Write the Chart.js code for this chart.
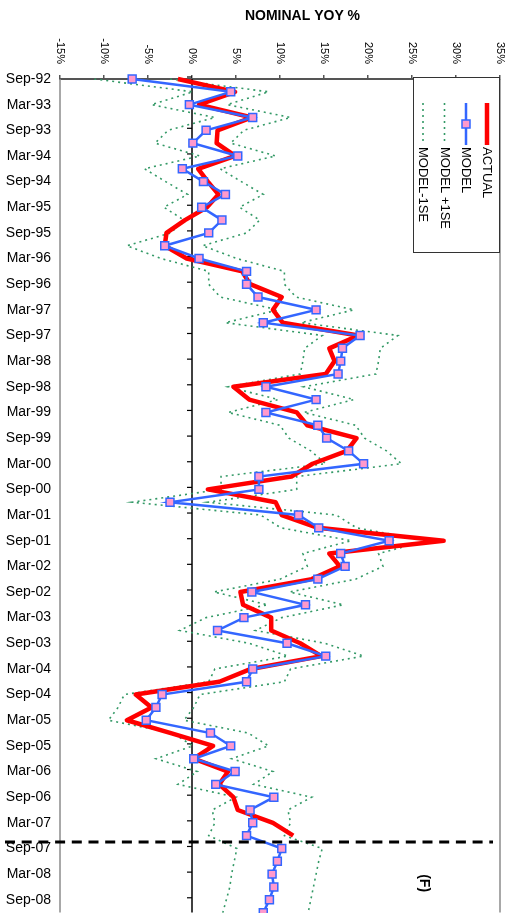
<!DOCTYPE html>
<html><head><meta charset="utf-8">
<script src="https://cdn.jsdelivr.net/npm/chart.js@4/dist/chart.umd.min.js"></script>
<style>html,body{margin:0;padding:0;background:#fff;overflow:hidden;} #wrap{width:511px;height:930px;}</style>
</head><body><div id="wrap"><canvas id="c" width="511" height="930"></canvas></div>
<script>
const categories = [
'Sep-92','Dec-92',
'Mar-93','Jun-93','Sep-93','Dec-93',
'Mar-94','Jun-94','Sep-94','Dec-94',
'Mar-95','Jun-95','Sep-95','Dec-95',
'Mar-96','Jun-96','Sep-96','Dec-96',
'Mar-97','Jun-97','Sep-97','Dec-97',
'Mar-98','Jun-98','Sep-98','Dec-98',
'Mar-99','Jun-99','Sep-99','Dec-99',
'Mar-00','Jun-00','Sep-00','Dec-00',
'Mar-01','Jun-01','Sep-01','Dec-01',
'Mar-02','Jun-02','Sep-02','Dec-02',
'Mar-03','Jun-03','Sep-03','Dec-03',
'Mar-04','Jun-04','Sep-04','Dec-04',
'Mar-05','Jun-05','Sep-05','Dec-05',
'Mar-06','Jun-06','Sep-06','Dec-06',
'Mar-07','Jun-07','Sep-07','Dec-07',
'Mar-08','Jun-08','Sep-08','Dec-08'
];

const actual = [
-1.6, 4.9, 0.8, 6.8, 2.9, 2.8, 4.9, 0.7, 1.8, 3.0,
1.7, -0.8, -2.9, -3.1, -0.6, 5.7, 6.6, 10.2, 9.2, 10.3,
18.9, 15.6, 16.2, 15.2, 4.7, 6.5, 11.9, 13.1, 18.7, 17.6,
13.7, 11.3, 1.8, 9.5, 10.2, 14.3, 28.6, 15.6, 16.8, 13.6,
5.5, 5.8, 9.0, 9.0, 12.3, 14.7, 6.7, 3.1, -6.4, -4.6,
-7.4, -2.4, 2.4, 0.2, 4.1, 3.1, 4.7, 5.2, 9.2, 11.5
];

const model = [
-6.8, 4.4, -0.3, 6.9, 1.6, 0.1, 5.2, -1.1, 1.3, 3.8,
1.1, 3.4, 1.9, -3.1, 0.8, 6.2, 6.2, 7.5, 14.1, 8.1,
19.1, 17.1, 16.9, 16.6, 8.4, 14.1, 8.4, 14.3, 15.3, 17.8,
19.5, 7.6, 7.6, -2.5, 12.1, 14.4, 22.4, 16.9, 17.4, 14.3,
6.8, 12.9, 5.9, 2.9, 10.8, 15.2, 6.9, 6.2, -3.4, -4.1,
-5.2, 2.1, 4.4, 0.2, 4.9, 2.7, 9.3, 6.6, 6.9, 6.2,
10.2, 9.7, 9.1, 9.3, 8.8, 8.1
];

const modelPlus1SE = [
-2.5, 8.7, 4.0, 11.2, 5.9, 4.4, 9.5, 3.2, 5.6, 8.1,
5.4, 7.7, 6.2, 1.2, 5.1, 10.5, 10.5, 11.8, 18.4, 12.4,
23.4, 21.4, 21.2, 20.9, 12.7, 18.4, 12.7, 18.6, 19.6, 22.1,
23.8, 11.9, 11.9, 1.8, 16.4, 18.7, 26.7, 21.2, 21.7, 18.6,
11.1, 17.2, 10.2, 7.2, 15.1, 19.5, 11.2, 10.5, 0.9, 0.2,
-0.9, 6.4, 8.7, 4.5, 9.2, 7.0, 13.6, 10.9, 11.2, 10.5,
14.8, 14.4, 14.1, 13.8, 13.5, 13.2
];

const modelMinus1SE = [
-11.1, 0.1, -4.6, 2.6, -2.7, -4.2, 0.9, -5.4, -3.0, -0.5,
-3.2, -0.9, -2.4, -7.4, -3.5, 1.9, 1.9, 3.2, 9.8, 3.8,
14.8, 12.8, 12.6, 12.3, 4.1, 9.8, 4.1, 10.0, 11.0, 13.5,
15.2, 3.3, 3.3, -6.8, 7.8, 10.1, 18.1, 12.6, 13.1, 10.0,
2.5, 8.6, 1.6, -1.4, 6.5, 10.9, 2.6, 1.9, -7.7, -8.4,
-9.5, -2.2, 0.1, -4.1, 0.6, -1.6, 5.0, 2.3, 2.6, 1.9,
5.1, 4.8, 4.5, 4.3, 3.9, 3.5
];

const xTicks = [-15, -10, -5, 0, 5, 10, 15, 20, 25, 30, 35];
const xTickLabels = ['-15%', '-10%', '-5%', '0%', '5%', '10%', '15%', '20%', '25%', '30%', '35%'];
const seriesNames = ['ACTUAL', 'MODEL', 'MODEL +1SE', 'MODEL-1SE'];
const chartTitle = 'NOMINAL YOY %';
const forecastLabel = '(F)';
const forecastBoundary = 59.5;   // between Jun-07 and Sep-07
const forecastLabelPos = {cat: 62.7, val: 26.4};

const FONT = "'Liberation Sans', Arial, Helvetica, sans-serif";
const RED = '#FF0000', BLUE = '#3366FF', PINK = '#FF99CC', GREEN = '#339966';
Chart.defaults.font.family = FONT;

const decor = {
  id: 'decor',
  beforeDatasetsDraw(chart) {
    const {ctx, chartArea: a, scales: {x, y}} = chart;
    ctx.save();
    ctx.strokeStyle = '#8c8c8c'; ctx.lineWidth = 1.5;
    ctx.beginPath();
    ctx.moveTo(a.left, a.top); ctx.lineTo(a.left, a.bottom);
    ctx.moveTo(a.right, a.top); ctx.lineTo(a.right, a.bottom);
    ctx.stroke();
    const x0 = x.getPixelForValue(0);
    ctx.strokeStyle = '#000'; ctx.lineWidth = 1.5;
    ctx.beginPath(); ctx.moveTo(x0, a.top); ctx.lineTo(x0, a.bottom); ctx.stroke();
    ctx.lineWidth = 1.2;
    for (let i = 0; i < categories.length; i += 2) {
      const py = y.getPixelForValue(i) - 2;
      ctx.beginPath(); ctx.moveTo(x0 - 5, py); ctx.lineTo(x0, py); ctx.stroke();
    }
    ctx.restore();
  },
  afterDatasetsDraw(chart) {
    const {ctx, scales: {y}} = chart;
    const py = y.getPixelForValue(forecastBoundary);
    ctx.save();
    ctx.strokeStyle = '#000'; ctx.lineWidth = 3; ctx.setLineDash([10, 6.7]);
    ctx.beginPath(); ctx.moveTo(5, py); ctx.lineTo(493, py); ctx.stroke();
    ctx.restore();
  },
  afterDraw(chart) {
    const {ctx, chartArea: a, scales: {x, y}} = chart;
    ctx.save();
    ctx.fillStyle = '#000';
    // title
    ctx.font = 'bold 14px ' + FONT;
    ctx.textAlign = 'center'; ctx.textBaseline = 'middle';
    ctx.fillText(chartTitle, 302.5, 16);
    // x tick labels (rotated clockwise)
    ctx.font = '11px ' + FONT;
    xTicks.forEach((v, i) => {
      const px = x.getPixelForValue(v);
      ctx.save();
      ctx.translate(px, 64); ctx.rotate(Math.PI / 2);
      ctx.textAlign = 'right'; ctx.textBaseline = 'middle';
      ctx.fillText(xTickLabels[i], 0, 0);
      ctx.restore();
    });
    // (F)
    ctx.save();
    ctx.font = 'bold 14px ' + FONT;
    ctx.translate(x.getPixelForValue(forecastLabelPos.val), y.getPixelForValue(forecastLabelPos.cat));
    ctx.rotate(Math.PI / 2);
    ctx.textAlign = 'center'; ctx.textBaseline = 'middle';
    ctx.fillText(forecastLabel, 0, 0);
    ctx.restore();
    // legend
    const bx = 413.5, by = 77.5, bw = 86, bh = 175;
    ctx.fillStyle = '#fff'; ctx.fillRect(bx, by, bw, bh);
    ctx.strokeStyle = '#333'; ctx.lineWidth = 1; ctx.strokeRect(bx, by, bw, bh);
    const cols = [487, 466, 444.5, 423];
    const y1 = 103, y2 = 145, ty = 147;
    cols.forEach((cx, i) => {
      ctx.save();
      if (i === 0) { ctx.strokeStyle = RED; ctx.lineWidth = 4.5; }
      else if (i === 1) { ctx.strokeStyle = BLUE; ctx.lineWidth = 2.5; }
      else { ctx.strokeStyle = GREEN; ctx.lineWidth = 1.6; ctx.setLineDash([2, 4]); }
      ctx.beginPath(); ctx.moveTo(cx, y1); ctx.lineTo(cx, y2); ctx.stroke();
      ctx.setLineDash([]);
      if (i === 1) {
        ctx.fillStyle = PINK; ctx.strokeStyle = BLUE; ctx.lineWidth = 1.5;
        ctx.fillRect(cx - 4, 120, 8, 8); ctx.strokeRect(cx - 4, 120, 8, 8);
      }
      ctx.restore();
      ctx.save();
      ctx.fillStyle = '#000';
      ctx.font = '13px ' + FONT;
      ctx.translate(cx, ty); ctx.rotate(Math.PI / 2);
      ctx.textAlign = 'left'; ctx.textBaseline = 'middle';
      ctx.fillText(seriesNames[i], 0, 0);
      ctx.restore();
    });
    ctx.restore();
  }
};

new Chart(document.getElementById('c'), {
  type: 'line',
  data: {
    labels: categories,
    datasets: [
      {label: seriesNames[1], data: model, borderColor: BLUE, borderWidth: 2.5,
       pointStyle: 'rect', pointRadius: 5.6, pointBackgroundColor: PINK, pointBorderColor: BLUE,
       pointBorderWidth: 1.5, order: 0, clip: false},
      {label: seriesNames[0], data: actual, borderColor: RED, borderWidth: 4.5,
       pointRadius: 0, order: 1, borderJoinStyle: 'round', clip: false},
      {label: seriesNames[2], data: modelPlus1SE, borderColor: GREEN, borderWidth: 1.6,
       borderDash: [2, 4], pointRadius: 0, order: 2},
      {label: seriesNames[3], data: modelMinus1SE, borderColor: GREEN, borderWidth: 1.6,
       borderDash: [2, 4], pointRadius: 0, order: 3}
    ]
  },
  options: {
    indexAxis: 'y',
    responsive: false,
    animation: false,
    layout: {autoPadding: false, padding: {top: 0, left: 0, right: 11, bottom: 16.7}},
    plugins: {legend: {display: false}, title: {display: false}, tooltip: {enabled: false}},
    elements: {line: {tension: 0, fill: false}},
    scales: {
      x: {
        type: 'linear', position: 'top', min: -15, max: 35,
        ticks: {display: false, stepSize: 5},
        grid: {display: true, drawOnChartArea: false, drawTicks: true, tickLength: 4, color: '#555', lineWidth: 1.5},
        border: {display: true, color: '#555', width: 2},
        afterFit: (s) => { s.height = 79; }
      },
      y: {
        type: 'category',
        ticks: {autoSkip: false, padding: 9, color: '#000', font: {size: 14},
                callback: (v, i) => (i % 2 === 0 ? categories[i] : '')},
        grid: {display: false, drawTicks: false},
        border: {display: false},
        afterFit: (s) => { s.width = 60; }
      }
    }
  },
  plugins: [decor]
});
</script>
</body></html>
